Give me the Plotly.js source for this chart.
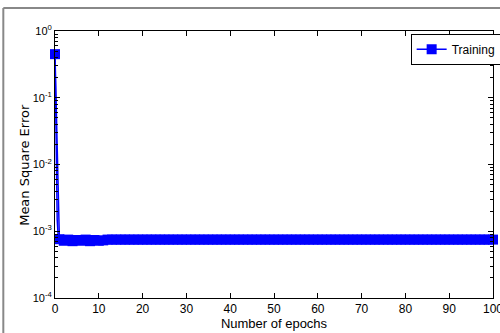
<!DOCTYPE html>
<html><head><meta charset="utf-8">
<script src="https://cdn.plot.ly/plotly-3.0.1.min.js"></script>
<style>html,body{margin:0;padding:0;background:#fff;}#chart{width:500px;height:333px;}</style>
</head><body><div id="chart"></div>
<script>
// initial drop during the first epoch
const dropEpochs = [0, 0.1, 0.2, 0.3, 0.4, 0.5, 0.7, 1];
const dropMSE = [0.45, 0.08, 0.02, 0.008, 0.003, 0.0015, 0.0009, 0.00076];
// per-epoch training MSE
const epochs = [0,1,2,3,4,5,6,7,8,9,10,11,12,13,14,15,16,17,18,19,20,21,22,23,24,25,26,27,28,29,30,31,32,33,34,35,36,37,38,39,40,41,42,43,44,45,46,47,48,49,50,51,52,53,54,55,56,57,58,59,60,61,62,63,64,65,66,67,68,69,70,71,72,73,74,75,76,77,78,79,80,81,82,83,84,85,86,87,88,89,90,91,92,93,94,95,96,97,98,99,100];
const trainMSE = [0.45,0.00076,0.00072,0.00075,0.00071,0.00074,0.00072,0.00075,0.00071,0.00074,0.00072,0.00073,0.00075,0.00075,0.00075,0.00075,0.00075,0.00075,0.00075,0.00075,0.00075,0.00075,0.00075,0.00075,0.00075,0.00075,0.00075,0.00075,0.00075,0.00075,0.00075,0.00075,0.00075,0.00075,0.00075,0.00075,0.00075,0.00075,0.00075,0.00075,0.00075,0.00075,0.00075,0.00075,0.00075,0.00075,0.00075,0.00075,0.00075,0.00075,0.00075,0.00075,0.00075,0.00075,0.00075,0.00075,0.00075,0.00075,0.00075,0.00075,0.00075,0.00075,0.00075,0.00075,0.00075,0.00075,0.00075,0.00075,0.00075,0.00075,0.00075,0.00075,0.00075,0.00075,0.00075,0.00075,0.00075,0.00075,0.00075,0.00075,0.00075,0.00075,0.00075,0.00075,0.00075,0.00075,0.00075,0.00075,0.00075,0.00075,0.00075,0.00075,0.00075,0.00075,0.00075,0.00075,0.00075,0.00075,0.00075,0.00075,0.00075];
const yTickVals = [1e-4, 1e-3, 1e-2, 1e-1, 1];
const yTickText = ['10<sup>-4</sup>','10<sup>-3</sup>','10<sup>-2</sup>','10<sup>-1</sup>','10<sup>0</sup>'];
const yMinorVals = [2e-4,3e-4,4e-4,5e-4,6e-4,7e-4,8e-4,9e-4,2e-3,3e-3,4e-3,5e-3,6e-3,7e-3,8e-3,9e-3,2e-2,3e-2,4e-2,5e-2,6e-2,7e-2,8e-2,9e-2,0.2,0.3,0.4,0.5,0.6,0.7,0.8,0.9];
const xTickVals = [0,10,20,30,40,50,60,70,80,90,100];

const traces = [
  {x: dropEpochs, y: dropMSE, type:'scatter', mode:'lines', line:{color:'#0000ff', width:1.5}, showlegend:false, hoverinfo:'skip', cliponaxis:false},
  {x: epochs, y: trainMSE, type:'scatter', mode:'lines+markers', name:'Training', cliponaxis:false,
   line:{color:'#0000ff', width:1.5}, marker:{symbol:'square', size:10, color:'#0000ff'}}
];
const layout = {
  width:500, height:333,
  margin:{l:55, r:7, t:31, b:35, autoexpand:false},
  paper_bgcolor:'#fff', plot_bgcolor:'#fff',
  font:{family:'"Liberation Sans Narrow", "Liberation Sans", Arial, sans-serif', size:11, color:'#000'},
  xaxis:{range:[0,100], tickvals:xTickVals, ticks:'inside', ticklen:5, tickcolor:'#000', ticklabeloverflow:'allow',
    showline:true, linecolor:'#000', linewidth:1, mirror:'ticks', showgrid:false, zeroline:false,
    tickfont:{size:12}, title:{text:'Number of epochs', font:{size:13}, standoff:3}},
  yaxis:{type:'log', range:[-4,0], tickmode:'array', tickvals:yTickVals, ticktext:yTickText, ticks:'inside', ticklen:5, tickcolor:'#000',
    showline:true, linecolor:'#000', linewidth:1, mirror:'ticks', showgrid:false, zeroline:false,
    minor:{tickmode:'array', tickvals:yMinorVals, ticks:'inside', ticklen:3, tickcolor:'#000', showgrid:false},
    tickfont:{size:11}},
  annotations:[
    {text:'Mean Square Error', textangle:-90, xref:'paper', yref:'paper', x:-0.07, y:0.5, xanchor:'center', yanchor:'middle',
     showarrow:false, font:{size:13, family:'"DejaVu Sans", sans-serif', color:'#000'}}
  ],
  legend:{x:0.812, xanchor:'left', y:0.99, yanchor:'top', bgcolor:'#fff', bordercolor:'#000', borderwidth:1,
    font:{size:12}, itemwidth:30, tracegroupgap:0},
  shapes:[
    {type:'line', xref:'paper', yref:'paper', x0:-0.118, x1:1.1, y0:1.086, y1:1.086, line:{color:'#888', width:2}},
    {type:'line', xref:'paper', yref:'paper', x0:-0.118, x1:-0.118, y0:-0.2, y1:1.086, line:{color:'#888', width:2}}
  ]
};
Plotly.newPlot('chart', traces, layout, {displayModeBar:false, staticPlot:true});
</script></body></html>
